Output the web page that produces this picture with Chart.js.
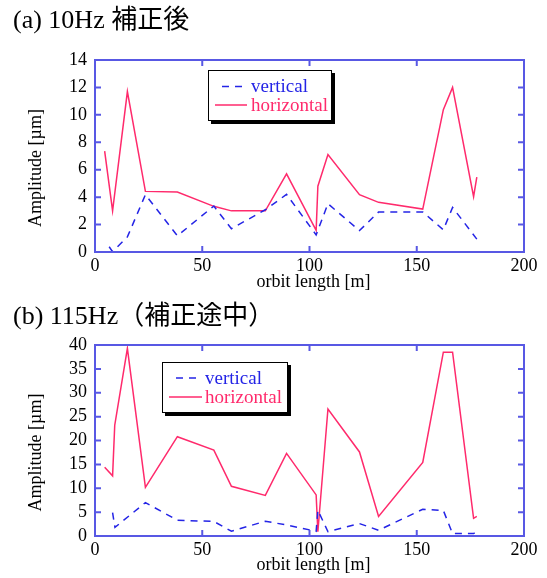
<!DOCTYPE html>
<html><head><meta charset="utf-8">
<script src="https://cdn.jsdelivr.net/npm/chart.js@4/dist/chart.umd.min.js"></script>
<style>
body{margin:0;background:#fff;width:547px;height:578px;overflow:hidden;position:relative;}
.t{position:absolute;left:13px;font-family:'Liberation Serif','Noto Sans CJK JP',serif;font-size:26px;color:#000;white-space:nowrap;line-height:26px;z-index:2;}
canvas{position:absolute;left:0;}
</style></head><body>
<canvas id="ca" style="top:0px" width="547" height="300"></canvas>
<canvas id="cb" style="top:290px" width="547" height="288"></canvas>
<div class="t" style="top:7px">(a) 10Hz 補正後</div>
<div class="t" style="top:303px">(b) 115Hz（補正途中）</div>
<script>
// ---- data ----
const titleA = "(a) 10Hz 補正後";
const titleB = "(b) 115Hz（補正途中）";
const seriesNames = ["vertical", "horizontal"];
const xAxisTitle = "orbit length [m]";
const yAxisTitle = "Amplitude [µm]";
const xTicks = [0, 50, 100, 150, 200];
const yTicksA = [0, 2, 4, 6, 8, 10, 12, 14];
const yTicksB = [0, 5, 10, 15, 20, 25, 30, 35, 40];

// (a) 10Hz
const aVertX = [6.6, 8.2, 15.1, 23.5, 38.4, 55.4, 63.6, 79.4, 89.3, 103.1, 108.6, 123.3, 132.2, 152.8, 162.4, 166.7, 178.0];
const aVertY = [0.38, 0.02, 1.1, 4.18, 1.18, 3.35, 1.7, 3.08, 4.2, 1.25, 3.52, 1.56, 2.92, 2.92, 1.62, 3.25, 0.94];
const aHorX = [4.5, 8.2, 15.1, 23.5, 38.4, 55.4, 63.6, 79.4, 89.3, 103.1, 103.9, 108.6, 123.3, 132.2, 152.8, 162.4, 166.7, 176.5, 178.0];
const aHorY = [7.35, 3.0, 11.7, 4.42, 4.38, 3.33, 3.0, 3.0, 5.7, 1.58, 4.8, 7.1, 4.18, 3.62, 3.13, 10.38, 12.0, 4.03, 5.46];

// (b) 115Hz
const bVertX = [8.2, 9.3, 23.5, 38.4, 55.4, 63.6, 79.4, 89.3, 103.1, 103.9, 108.6, 123.3, 132.2, 152.8, 162.4, 166.7, 176.5, 178.0];
const bVertY = [4.9, 1.8, 7.0, 3.3, 3.05, 1.0, 3.1, 2.3, 1.0, 5.4, 0.9, 2.6, 1.2, 5.6, 5.35, 0.5, 0.5, 0.9];
const bHorX = [4.5, 8.2, 9.2, 15.1, 23.5, 38.4, 55.4, 63.6, 79.4, 89.3, 103.1, 103.9, 108.6, 123.3, 132.2, 152.8, 162.4, 166.7, 176.5, 178.0];
const bHorY = [14.4, 12.6, 23.2, 39.3, 10.2, 20.8, 18.0, 10.4, 8.5, 17.3, 8.6, 0.9, 26.6, 17.6, 4.1, 15.4, 38.5, 38.5, 3.7, 4.1];

// ---- styles ----
const FRAME = '#5858e4';
const BLUE = '#2424e6';
const PINK = '#ff2a6c';
const SERIF = '"Liberation Serif", "Times New Roman", serif';

const pts = (xs, ys) => xs.map((x, i) => ({x: x, y: ys[i]}));

const decor = {
  id: 'decor',
  afterDraw(chart, args, o) {
    const {ctx, chartArea: a, scales: {x, y}} = chart;
    ctx.save();
    ctx.strokeStyle = FRAME; ctx.lineWidth = 2;
    ctx.strokeRect(a.left, a.top, a.right - a.left, a.bottom - a.top);
    ctx.beginPath();
    x.ticks.forEach((t, i) => { const p = x.getPixelForTick(i);
      ctx.moveTo(p, a.bottom); ctx.lineTo(p, a.bottom - 6);
      ctx.moveTo(p, a.top); ctx.lineTo(p, a.top + 6); });
    y.ticks.forEach((t, i) => { const p = y.getPixelForTick(i);
      ctx.moveTo(a.left, p); ctx.lineTo(a.left + 6, p);
      ctx.moveTo(a.right, p); ctx.lineTo(a.right - 6, p); });
    ctx.stroke();
    // axis titles
    ctx.fillStyle = '#000'; ctx.font = '18px ' + SERIF;
    ctx.textAlign = 'center'; ctx.textBaseline = 'alphabetic';
    ctx.fillText(xAxisTitle, (a.left + a.right) / 2 + 4, a.bottom + o.xdy);
    ctx.save();
    ctx.translate(a.left - 59, (a.top + a.bottom) / 2 + 12);
    ctx.rotate(-Math.PI / 2);
    ctx.textBaseline = 'middle';
    ctx.fillText(yAxisTitle, 0, 0);
    ctx.restore();
    // legend box
    const L = o.legend;
    ctx.fillStyle = '#000';
    ctx.fillRect(L.x + 3, L.y + 3, L.w, L.h);
    ctx.fillStyle = '#fff';
    ctx.fillRect(L.x, L.y, L.w, L.h);
    ctx.strokeStyle = '#000'; ctx.lineWidth = 1;
    ctx.strokeRect(L.x + 0.5, L.y + 0.5, L.w - 1, L.h - 1);
    ctx.font = '19px ' + SERIF; ctx.textAlign = 'left'; ctx.textBaseline = 'middle';
    chart.data.datasets.forEach((ds, i) => {
      const yy = L.y + L.rows[i];
      ctx.strokeStyle = ds.borderColor; ctx.lineWidth = 1.5;
      ctx.setLineDash(ds.borderDash || []);
      ctx.beginPath(); ctx.moveTo(L.x + L.l0[i], yy); ctx.lineTo(L.x + L.l1, yy); ctx.stroke();
      ctx.setLineDash([]);
      ctx.fillStyle = ds.borderColor;
      ctx.fillText(ds.label, L.x + L.tx, yy + 1);
    });
    ctx.restore();
  }
};

function makeChart(id, vx, vy, hx, hy, yMax, yTicks, padTop, xH, xdy, legend) {
  return new Chart(document.getElementById(id), {
    type: 'line',
    data: { datasets: [
      { label: seriesNames[0], data: pts(vx, vy), borderColor: BLUE, borderWidth: 1.5, borderDash: [7, 6], pointRadius: 0, tension: 0, fill: false },
      { label: seriesNames[1], data: pts(hx, hy), borderColor: PINK, borderWidth: 1.5, pointRadius: 0, tension: 0, fill: false }
    ]},
    options: {
      responsive: false, animation: false, devicePixelRatio: 1,
      layout: { padding: { left: 0, right: 23, top: padTop, bottom: 0 } },
      plugins: { legend: { display: false }, tooltip: { enabled: false }, decor: { xdy: xdy, legend: legend } },
      scales: {
        x: { type: 'linear', min: xTicks[0], max: xTicks[xTicks.length - 1],
             afterBuildTicks: s => { s.ticks = xTicks.map(v => ({value: v})); },
             afterFit: s => { s.height = xH; },
             grid: { display: false, drawTicks: false }, border: { display: false },
             ticks: { color: '#000', font: { family: SERIF, size: 18 }, padding: 3, maxRotation: 0, autoSkip: false } },
        y: { type: 'linear', min: 0, max: yMax,
             afterBuildTicks: s => { s.ticks = yTicks.map(v => ({value: v})); },
             afterFit: s => { s.width = 95; },
             grid: { display: false, drawTicks: false }, border: { display: false },
             ticks: { color: '#000', font: { family: SERIF, size: 18 }, padding: 8, autoSkip: false } }
      }
    },
    plugins: [decor]
  });
}

makeChart('ca', aVertX, aVertY, aHorX, aHorY, 14, yTicksA, 60, 48, 35,
  { x: 208, y: 70, w: 124, h: 51, rows: [16.5, 35], l0: [14, 7], l1: 39, tx: 43 });
makeChart('cb', bVertX, bVertY, bHorX, bHorY, 40, yTicksB, 55, 42, 34,
  { x: 162, y: 362 - 290, w: 126, h: 51, rows: [16, 35], l0: [14, 7], l1: 40, tx: 43 });
</script>
</body></html>
